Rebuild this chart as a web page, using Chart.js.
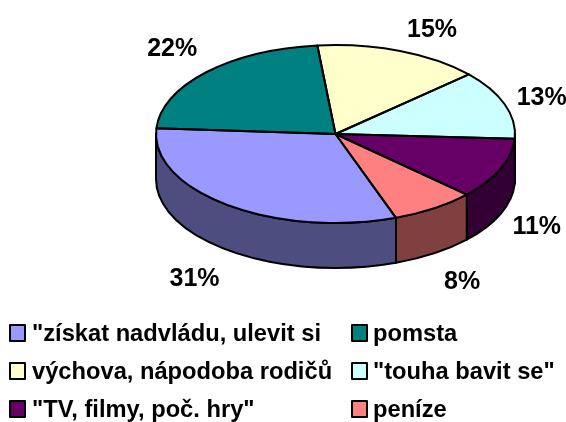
<!DOCTYPE html>
<html><head><meta charset="utf-8">
<style>html,body{margin:0;padding:0;background:#fff}canvas{display:block}</style>
<script src="https://cdn.jsdelivr.net/npm/chart.js@4"></script>
</head><body>
<canvas id="c" width="566" height="422"></canvas>
<script>
const categories = ['"získat nadvládu, ulevit si', 'pomsta', 'výchova, nápodoba rodičů', '"touha bavit se"', '"TV, filmy, poč. hry"', 'peníze'];
const values = [31.49, 22.37, 14.94, 12.5, 11.12, 7.58];
const colors = ['#9999FF', '#008080', '#FFFFCC', '#CCFFFF', '#660066', '#FF8080'];
const labelOffsets = [[-33, 74], [-34, -23], [32, -21], [37, -6], [36, 58], [28, 74]];

const CY = 134, RY = 89, DEPTH = 45, LW = 2;
const FONT = 'bold 25px "Liberation Sans", Arial, sans-serif';
const LEGEND_FONT = 'bold 23.7px "Liberation Sans", Arial, sans-serif';

function halve(hex) {
  const n = parseInt(hex.slice(1), 16);
  return 'rgb(' + (n >> 16) / 2 + ',' + ((n >> 8) & 255) / 2 + ',' + (n & 255) / 2 + ')';
}

const pie3d = {
  id: 'pie3d',
  beforeDatasetsDraw(chart) {
    const ctx = chart.ctx, arcs = chart.getDatasetMeta(0).data;
    const cx = arcs[0].x, rx = arcs[0].outerRadius;
    ctx.save();
    ctx.lineWidth = LW; ctx.strokeStyle = '#000'; ctx.lineJoin = 'round';
    arcs.forEach((a, i) => {
      for (const k of [-1, 0, 1]) {
        const s = Math.max(a.startAngle + k * 2 * Math.PI, 0);
        const e = Math.min(a.endAngle + k * 2 * Math.PI, Math.PI);
        if (e <= s) continue;
        ctx.beginPath();
        ctx.ellipse(cx, CY, rx, RY, 0, s, e);
        ctx.ellipse(cx, CY + DEPTH, rx, RY, 0, e, s, true);
        ctx.closePath();
        ctx.fillStyle = halve(colors[i]);
        ctx.fill(); ctx.stroke();
      }
    });
    ctx.restore();
    ctx.save();
    ctx.translate(0, CY);
    ctx.scale(1, RY / rx);
    ctx.translate(0, -arcs[0].y);
  },
  afterDatasetsDraw(chart) {
    const ctx = chart.ctx, arcs = chart.getDatasetMeta(0).data;
    ctx.restore();
    const cx = arcs[0].x, rx = arcs[0].outerRadius;
    ctx.save();
    ctx.lineWidth = LW; ctx.strokeStyle = '#000'; ctx.lineJoin = 'round';
    arcs.forEach(a => {
      ctx.beginPath();
      ctx.moveTo(cx, CY);
      ctx.ellipse(cx, CY, rx, RY, 0, a.startAngle, a.endAngle);
      ctx.closePath();
      ctx.stroke();
    });
    ctx.fillStyle = '#000'; ctx.font = FONT;
    ctx.textAlign = 'center'; ctx.textBaseline = 'middle';
    arcs.forEach((a, i) => {
      const m = (a.startAngle + a.endAngle) / 2;
      ctx.fillText(Math.round(values[i]) + '%',
        cx + rx * Math.cos(m) + labelOffsets[i][0],
        CY + RY * Math.sin(m) + labelOffsets[i][1]);
    });
    ctx.font = LEGEND_FONT; ctx.textAlign = 'left'; ctx.textBaseline = 'alphabetic';
    ctx.lineWidth = 2;
    categories.forEach((name, i) => {
      const col = i % 2, row = (i - col) / 2;
      const x = col ? 352 : 10, y = 325 + row * 38;
      ctx.fillStyle = colors[i];
      ctx.fillRect(x, y, 15, 16);
      ctx.strokeRect(x, y, 15, 16);
      ctx.fillStyle = '#000';
      ctx.fillText(name, col ? 373 : 32, y + 16);
    });
    ctx.restore();
  }
};

new Chart(document.getElementById('c'), {
  type: 'pie',
  data: { labels: categories, datasets: [{ data: values, backgroundColor: colors, borderWidth: 0, clip: false }] },
  options: {
    responsive: false, animation: false, rotation: 160.3,
    layout: { padding: { left: 156, right: 51, top: 0, bottom: 62 } },
    plugins: { legend: { display: false }, tooltip: { enabled: false }, title: { display: false } }
  },
  plugins: [pie3d]
});
</script>
</body></html>
